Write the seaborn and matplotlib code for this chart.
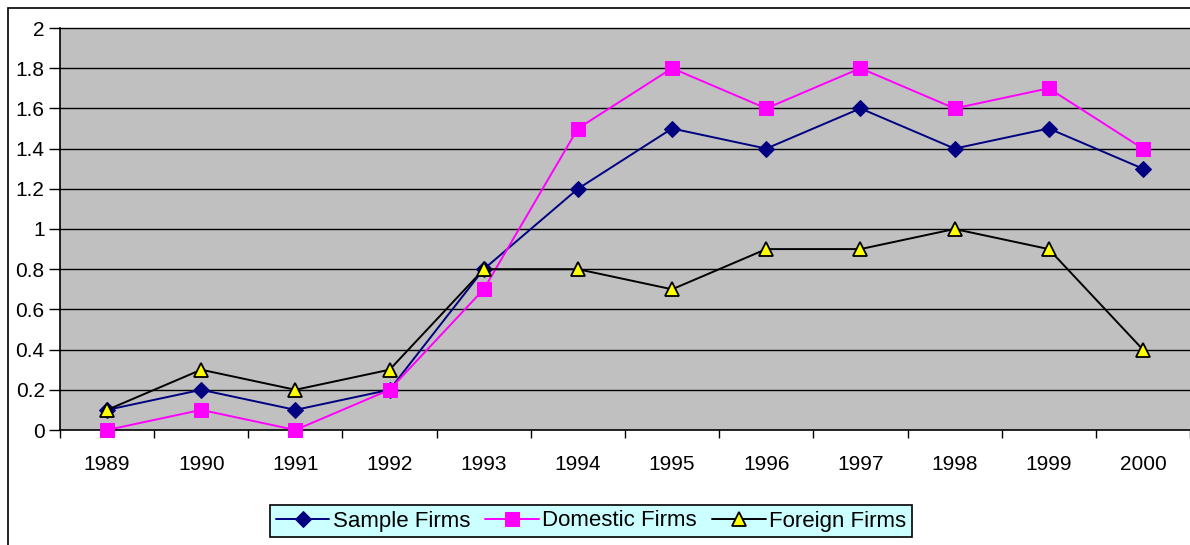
import pandas as pd
import matplotlib.pyplot as plt
import seaborn as sns
from matplotlib.patches import Rectangle
from matplotlib.ticker import FixedLocator, FuncFormatter

# Data
years = ['1989', '1990', '1991', '1992', '1993', '1994', '1995', '1996', '1997', '1998', '1999', '2000']
sample_firms = [0.1, 0.2, 0.1, 0.2, 0.8, 1.2, 1.5, 1.4, 1.6, 1.4, 1.5, 1.3]
domestic_firms = [0.0, 0.1, 0.0, 0.2, 0.7, 1.5, 1.8, 1.6, 1.8, 1.6, 1.7, 1.4]
foreign_firms = [0.1, 0.3, 0.2, 0.3, 0.8, 0.8, 0.7, 0.9, 0.9, 1.0, 0.9, 0.4]

df = pd.DataFrame({
    'pos': list(range(len(years))),
    'Sample Firms': sample_firms,
    'Domestic Firms': domestic_firms,
    'Foreign Firms': foreign_firms,
})

sns.set_style('white')
plt.rcParams['font.family'] = ['Liberation Sans', 'DejaVu Sans']
plt.rcParams['text.color'] = 'black'
plt.rcParams['xtick.color'] = 'black'
plt.rcParams['ytick.color'] = 'black'

fig = plt.figure(figsize=(11.9, 5.45), dpi=100)
ax = fig.add_axes([60 / 1190, 1 - 430 / 545, 1 - 60 / 1190, (430 - 28) / 545])
ax.set_facecolor('#C0C0C0')

# outer chart border
fig.patches.append(Rectangle((8 / 1190, -0.01), 1.0, 1 - 8 / 545 + 0.01, transform=fig.transFigure,
                             fill=False, edgecolor='black', linewidth=1.2, zorder=0))

# horizontal gridlines
for y in [0.2 * i for i in range(1, 11)]:
    ax.axhline(y, color='black', linewidth=1.0, zorder=1)

sns.lineplot(data=df, x='pos', y='Sample Firms', ax=ax, color='#000080', linewidth=1.4,
             marker='D', markersize=8, markerfacecolor='#000080', markeredgecolor='#000080',
             label='Sample Firms', zorder=3)
sns.lineplot(data=df, x='pos', y='Domestic Firms', ax=ax, color='#FF00FF', linewidth=1.4,
             marker='s', markersize=10, markerfacecolor='#FF00FF', markeredgecolor='#FF00FF',
             label='Domestic Firms', zorder=3)
sns.lineplot(data=df, x='pos', y='Foreign Firms', ax=ax, color='black', linewidth=1.4,
             marker='^', markersize=10, markerfacecolor='#FFFF00', markeredgecolor='black',
             markeredgewidth=1.3, label='Foreign Firms', zorder=4)

ax.set_xlim(-0.5, len(years) - 0.5)
ax.set_ylim(0, 2)
for m in ax.lines:
    m.set_clip_on(False)

# x axis: ticks at category boundaries, labels at centers
ax.xaxis.set_major_locator(FixedLocator([i + 0.5 for i in range(-1, len(years))]))
ax.xaxis.set_minor_locator(FixedLocator(list(range(len(years)))))
ax.set_xticklabels([], minor=False)
ax.set_xticklabels(years, minor=True)
ax.tick_params(axis='x', which='major', direction='out', length=6, width=1, color='black')
ax.tick_params(axis='x', which='minor', length=0, pad=18, labelsize=15, labelcolor='black')

ax.set_yticks([0.2 * i for i in range(11)])
ax.yaxis.set_major_formatter(FuncFormatter(lambda v, p: f'{round(v, 1):g}'))
ax.tick_params(axis='y', direction='out', length=8, width=1, color='black', labelsize=15,
               labelcolor='black', pad=3)
ax.tick_params(left=True, bottom=True)

ax.set_xlabel('')
ax.set_ylabel('')
for side in ['top', 'right']:
    ax.spines[side].set_visible(False)
ax.spines['left'].set_color('black')
ax.spines['left'].set_linewidth(1.2)
ax.spines['bottom'].set_color('black')
ax.spines['bottom'].set_linewidth(1.2)

leg = ax.legend(loc='center', bbox_to_anchor=(591 / 1190, 1 - 521 / 545), bbox_transform=fig.transFigure,
                ncol=3, frameon=True, fancybox=False, fontsize=16, handlelength=2.4,
                handletextpad=0.15, columnspacing=0.7, borderpad=0.25, borderaxespad=0)
leg.get_frame().set_facecolor('#CCFFFF')
leg.get_frame().set_edgecolor('black')
leg.get_frame().set_linewidth(1.2)
leg.get_frame().set_alpha(1)
for t in leg.get_texts():
    t.set_color('black')

fig.savefig('out.png', dpi=100)
